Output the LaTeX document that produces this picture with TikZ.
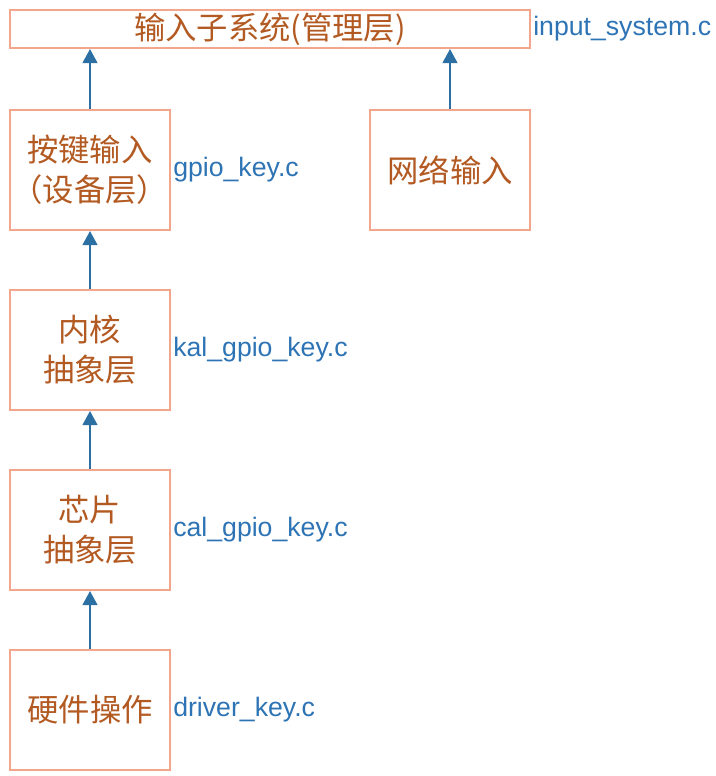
\documentclass[tikz,border=0pt]{standalone}
\usepackage{fontspec}
\setmainfont{Liberation Sans}
\newfontfamily\cjk{Noto Sans CJK SC}
\usetikzlibrary{arrows.meta}
\definecolor{boxline}{HTML}{F4A68C}
\definecolor{boxtext}{HTML}{B35A22}
\definecolor{lbl}{HTML}{2E74B5}
\definecolor{arr}{HTML}{2C6FA3}
\begin{document}
\begin{tikzpicture}[x=0.75pt,y=-0.75pt,
  box/.style={draw=boxline,line width=1.5pt,fill=white,minimum width=120pt,minimum height=90pt,
    inner sep=0pt,align=center,text=boxtext,font=\cjk\fontsize{23.5}{30}\selectfont},
  topbox/.style={box,minimum width=390pt,minimum height=28.5pt},
  lab/.style={anchor=west,inner sep=0pt,text=lbl,font=\fontsize{20}{22}\selectfont},
  up/.style={draw=arr,line width=1.5pt,-{Triangle[width=11pt,length=10.5pt]}}]
\useasboundingbox (0,0) rectangle (716,776);
\node[topbox] (top) at (270,29) {输入子系统(管理层)};
\node[box] (dev) at (90,170) {按键输入\\（设备层）};
\node[box] (net) at (450,170) {网络输入};
\node[box] (kal) at (90,350) {内核\\抽象层};
\node[box] (cal) at (90,530) {芯片\\抽象层};
\node[box] (drv) at (90,710) {硬件操作};
\node[lab] (l0) at (533,29) {input\_system.c};
\node[lab] (l1) at (173,170) {gpio\_key.c};
\node[lab] (l2) at (173,350) {kal\_gpio\_key.c};
\node[lab] (l3) at (173,530) {cal\_gpio\_key.c};
\node[lab] (l4) at (173,710) {driver\_key.c};
\draw[up] (dev.north) -- (dev.north |- top.south);
\draw[up] (net.north) -- (net.north |- top.south);
\draw[up] (kal.north) -- (dev.south);
\draw[up] (cal.north) -- (kal.south);
\draw[up] (drv.north) -- (cal.south);
\end{tikzpicture}
\end{document}
